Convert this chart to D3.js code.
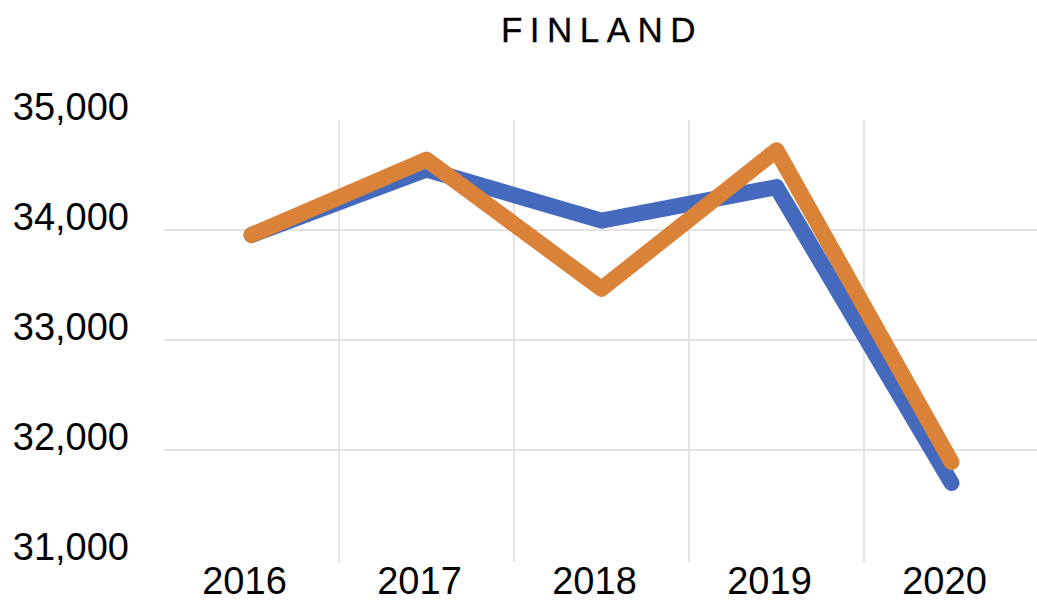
<!DOCTYPE html>
<html>
<head>
<meta charset="utf-8">
<script src="https://cdn.jsdelivr.net/npm/d3@7"></script>
<style>
  html, body { margin: 0; padding: 0; background: #fff; }
  svg { display: block; }
  text { font-family: "Liberation Sans", Arial, Helvetica, sans-serif; fill: #000; }
</style>
</head>
<body>
<svg id="chart" width="1037" height="610"></svg>
<script>
const title = "FINLAND";
const years = ["2016", "2017", "2018", "2019", "2020"];
const seriesBlue = [33955, 34550, 34085, 34390, 31700];
const seriesOrange = [33955, 34640, 33465, 34725, 31890];
const yTicks = [31000, 32000, 33000, 34000, 35000];
const gridTicks = [32000, 33000, 34000];

const svg = d3.select("#chart");
const W = 1037, H = 610;

const x = d3.scaleBand().domain(years).range([164, 1039]).padding(0);
const y = d3.scaleLinear().domain([31000, 35000]).range([560, 120]);
const cx = d => x(d) + x.bandwidth() / 2;

// Title
svg.append("text")
  .attr("x", 602).attr("y", 42)
  .attr("text-anchor", "middle")
  .attr("font-size", 35)
  .attr("letter-spacing", 7.5)
  .attr("stroke", "#000").attr("stroke-width", 0.3)
  .text(title);

// Horizontal gridlines
svg.append("g").selectAll("line").data(gridTicks).join("line")
  .attr("x1", 164).attr("x2", W)
  .attr("y1", d => y(d)).attr("y2", d => y(d))
  .attr("stroke", "#e3e3e3").attr("stroke-width", 2);

// Vertical gridlines between categories
svg.append("g").selectAll("line").data(years.slice(1)).join("line")
  .attr("x1", d => x(d)).attr("x2", d => x(d))
  .attr("y1", y(35000)).attr("y2", y(31000) + 2)
  .attr("stroke", "#e3e3e3").attr("stroke-width", 2);

// Y axis labels
const yAxis = d3.axisLeft(y).tickValues(yTicks).tickFormat(d3.format(",")).tickSize(0).tickPadding(0);
const gy = svg.append("g").attr("transform", "translate(129,-13)").call(yAxis);
gy.select(".domain").remove();
gy.selectAll("text").attr("font-size", 38).attr("font-family", "Liberation Sans, Arial, sans-serif").attr("fill", "#000");

// X axis labels
const xAxis = d3.axisBottom(x).tickSize(0).tickPadding(0);
const gx = svg.append("g").attr("transform", "translate(-7,567)").call(xAxis);
gx.select(".domain").remove();
gx.selectAll("text").attr("font-size", 38).attr("font-family", "Liberation Sans, Arial, sans-serif").attr("fill", "#000");

// Lines
const line = d3.line().x((d, i) => cx(years[i])).y(d => y(d));
svg.append("path").datum(seriesBlue)
  .attr("d", line).attr("fill", "none")
  .attr("stroke", "#4569BD").attr("stroke-width", 16)
  .attr("stroke-linejoin", "round").attr("stroke-linecap", "round");
svg.append("path").datum(seriesOrange)
  .attr("d", line).attr("fill", "none")
  .attr("stroke", "#DB8239").attr("stroke-width", 16)
  .attr("stroke-linejoin", "round").attr("stroke-linecap", "round");
</script>
</body>
</html>
